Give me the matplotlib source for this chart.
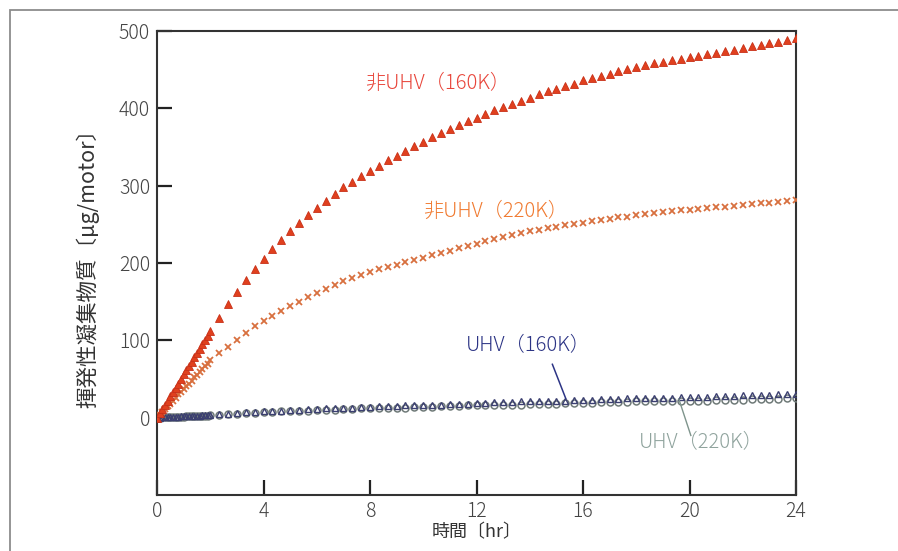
import numpy as np
import matplotlib
matplotlib.use("Agg")
import matplotlib.pyplot as plt
from matplotlib.patches import Rectangle

plt.rcParams['font.family'] = ['Noto Sans CJK JP', 'DejaVu Sans']
plt.rcParams['font.weight'] = 'light'

# ---- data ----
# early dense sampling 0-2 hr (every 0.1 hr), then every 1/3 hr up to 24 hr
t_early = [round(0.1 * i, 2) for i in range(21)]
t_late = [round(2 + k / 3, 3) for k in range(1, 67)]

non160_early = [0, 6, 11, 17, 22, 28, 33, 39, 44, 50, 56, 61, 67, 72, 78, 83, 89, 95, 100, 106, 112]
non160_late = [129, 147, 163, 178, 192, 205,
               218, 230, 241, 252, 262, 271, 280, 289, 298, 305, 312, 319,
               326, 333, 339, 345, 351, 357, 363, 368, 373, 378, 383, 388,
               393, 398, 402, 406, 410, 414, 418, 422, 425, 429, 432, 436,
               439, 442, 445, 448, 451, 453, 456, 458, 460, 462, 464, 466,
               468, 470, 472, 474, 476, 478, 480, 482, 484, 486, 488, 491]

non220_early = [0, 4, 7, 11, 15, 18, 22, 26, 30, 33, 37, 41, 44, 48, 52, 55, 59, 63, 67, 70, 74]
non220_late = [83, 92, 101, 110, 118, 125,
               132, 138, 144, 150, 156, 161, 167, 172, 177, 181, 185, 189,
               192, 195, 198, 201, 204, 207, 210, 213, 216, 219, 222, 225,
               228, 231, 234, 236, 239, 241, 243, 245, 247, 249, 251, 252,
               254, 256, 257, 259, 260, 262, 263, 265, 266, 267, 268, 269,
               270, 271, 272, 273, 274, 275, 276, 277, 278, 279, 280, 281]

uhv160_early = [0, 0.2, 0.4, 0.5, 0.7, 0.9, 1.0, 1.2, 1.4, 1.6, 1.8, 1.9, 2.1, 2.3, 2.5, 2.6, 2.8, 3.0, 3.2, 3.3, 3.5]
uhv160_late = [5, 5, 6, 7, 7, 8,
               9, 9, 10, 10, 11, 11, 12, 12, 13, 13, 14, 14,
               15, 15, 15, 16, 16, 17, 17, 17, 18, 18, 18, 19,
               19, 20, 20, 20, 21, 21, 21, 22, 22, 22, 23, 23,
               23, 24, 24, 24, 25, 25, 25, 26, 26, 26, 27, 27,
               27, 27, 28, 28, 28, 29, 29, 29, 29, 30, 30, 30]

uhv220_early = [0, 0.1, 0.3, 0.4, 0.6, 0.7, 0.9, 1.0, 1.2, 1.3, 1.5, 1.6, 1.8, 1.9, 2.1, 2.2, 2.4, 2.5, 2.7, 2.8, 3.0]
uhv220_late = [4, 5, 5, 6, 6, 7,
               7, 8, 8, 9, 9, 10, 10, 10, 11, 11, 12, 12,
               12, 13, 13, 13, 14, 14, 14, 15, 15, 15, 16, 16,
               16, 16, 17, 17, 17, 18, 18, 18, 18, 19, 19, 19,
               19, 20, 20, 20, 20, 21, 21, 21, 21, 22, 22, 22,
               22, 22, 23, 23, 23, 23, 24, 24, 24, 24, 25, 25]

x_ticks = [0, 4, 8, 12, 16, 20, 24]
y_ticks = [0, 100, 200, 300, 400, 500]

# ---- figure ----
fig = plt.figure(figsize=(8.98, 5.51), dpi=100)
ax = fig.add_axes([157 / 898, 1 - 495 / 551, (796 - 157) / 898, (495 - 31) / 551])

# outer frame
fig.patches.append(Rectangle((10 / 898, -0.2), 1.2, 1.2 - 10 / 551,
                             transform=fig.transFigure, fill=False,
                             edgecolor='#8c8c8c', lw=1.3, zorder=0))

c_non220 = '#d8703f'
c_uhv160 = '#3b3f70'
c_uhv220 = '#6f7a78'

# UHV series
ax.plot(t_early + t_late, uhv220_early + uhv220_late, linestyle='none', marker='o',
        markersize=5, markerfacecolor='none', markeredgecolor=c_uhv220, markeredgewidth=1.1, zorder=3)
ax.plot(t_early + t_late, uhv160_early + uhv160_late, linestyle='none', marker='^',
        markersize=5, markerfacecolor='none', markeredgecolor=c_uhv160, markeredgewidth=1.0, zorder=3)

# non-UHV series
ax.plot(t_early + t_late, non220_early + non220_late, linestyle='none', marker='x',
        markersize=5, markeredgecolor=c_non220, markeredgewidth=1.3, zorder=4)
ax.plot(t_early + t_late, non160_early + non160_late, linestyle='none', marker='^',
        markersize=6, markerfacecolor='#e0401e', markeredgecolor='#c83018', markeredgewidth=0.6, zorder=5)

ax.set_xlim(0, 24)
ax.set_ylim(-100, 500)
ax.set_xticks(x_ticks)
ax.set_yticks(y_ticks)
ax.set_xticklabels([str(v) for v in x_ticks])
ax.set_yticklabels([str(v) for v in y_ticks])
ax.tick_params(direction='in', length=11, width=1.6, colors='#222222',
               labelsize=14, labelcolor='#444444', pad=5)
ax.tick_params(axis='x', pad=4)
for s in ax.spines.values():
    s.set_color('#333333')
    s.set_linewidth(1.5)

ax.set_xlabel('時間〔hr〕', fontsize=13, color='#333333', labelpad=1)
ax.set_ylabel('揮発性凝集物質〔μg/motor〕', fontsize=15.5, color='#333333', labelpad=14)

# labels
ax.text(7.8, 432, '非UHV（160K）', color='#e8453a', fontsize=14.5, ha='left', va='center')
ax.text(10.0, 267, '非UHV（220K）', color='#f07a30', fontsize=14.5, ha='left', va='center')
ax.text(11.6, 93, 'UHV（160K）', color='#2c3485', fontsize=14.5, ha='left', va='center')
ax.text(18.1, -32, 'UHV（220K）', color='#8fa39d', fontsize=14.5, ha='left', va='center')
ax.plot([14.85, 15.35], [69, 25], color='#2c3485', lw=1.1, zorder=6)
ax.plot([19.6, 20.05], [24, -23], color='#7e948c', lw=1.0, zorder=6)

fig.savefig('out.png', dpi=100)
